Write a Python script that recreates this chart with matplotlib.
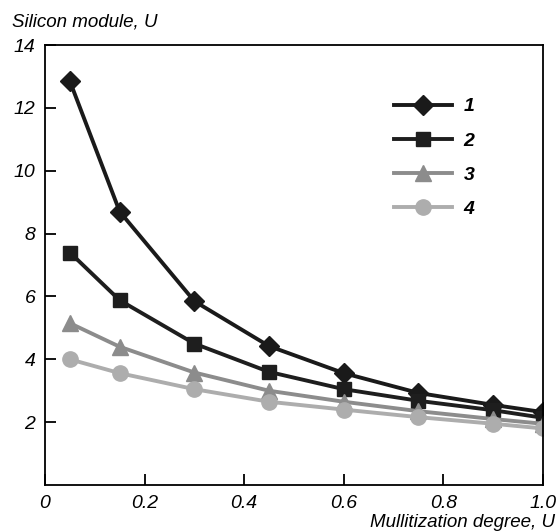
import matplotlib
matplotlib.use('Agg')
import matplotlib.pyplot as plt

plt.rcParams['font.family'] = ['Liberation Sans', 'DejaVu Sans']
plt.rcParams['font.style'] = 'italic'

x = [0.05, 0.15, 0.3, 0.45, 0.6, 0.75, 0.9, 1.0]
s1 = [12.85, 8.7, 5.85, 4.42, 3.56, 2.93, 2.55, 2.32]
s2 = [7.4, 5.88, 4.5, 3.6, 3.05, 2.68, 2.38, 2.14]
s3 = [5.15, 4.4, 3.58, 3.0, 2.65, 2.35, 2.1, 1.95]
s4 = [4.0, 3.56, 3.05, 2.65, 2.4, 2.16, 1.95, 1.8]
labels = ['1', '2', '3', '4']

fig = plt.figure(figsize=(5.57, 5.31), dpi=100)
ax = fig.add_axes([0.0808, 0.0866, 0.894, 0.8284])

styles = [
    (s1, '#1a1a1a', 'D', 10),
    (s2, '#1e1e1e', 's', 10),
    (s3, '#8c8c8c', '^', 11),
    (s4, '#adadad', 'o', 11),
]
for (ys, col, mk, ms), lab in zip(styles, labels):
    ax.plot(x, ys, color=col, marker=mk, markersize=ms, linewidth=2.8,
            label=lab, markeredgecolor=col)

ax.set_xlim(0, 1.0)
ax.set_ylim(0, 14)
ax.set_xticks([0, 0.2, 0.4, 0.6, 0.8, 1.0])
ax.set_xticklabels(['0', '0.2', '0.4', '0.6', '0.8', '1.0'])
ax.set_yticks([2, 4, 6, 8, 10, 12, 14])
ax.tick_params(direction='in', length=8, width=1.3, labelsize=14, pad=7)
for sp in ax.spines.values():
    sp.set_linewidth(1.3)

fig.text(0.022, 0.958, 'Silicon module, U', fontsize=13.5, va='center')
fig.text(0.997, 0.016, 'Mullitization degree, U', fontsize=13.5,
         ha='right', va='center')

leg = ax.legend(loc='upper left', bbox_to_anchor=(0.665, 0.92), frameon=False,
                handlelength=3.0, labelspacing=0.85, handletextpad=0.6,
                prop={'weight': 'bold', 'size': 14})

fig.savefig('out.png', dpi=100)
